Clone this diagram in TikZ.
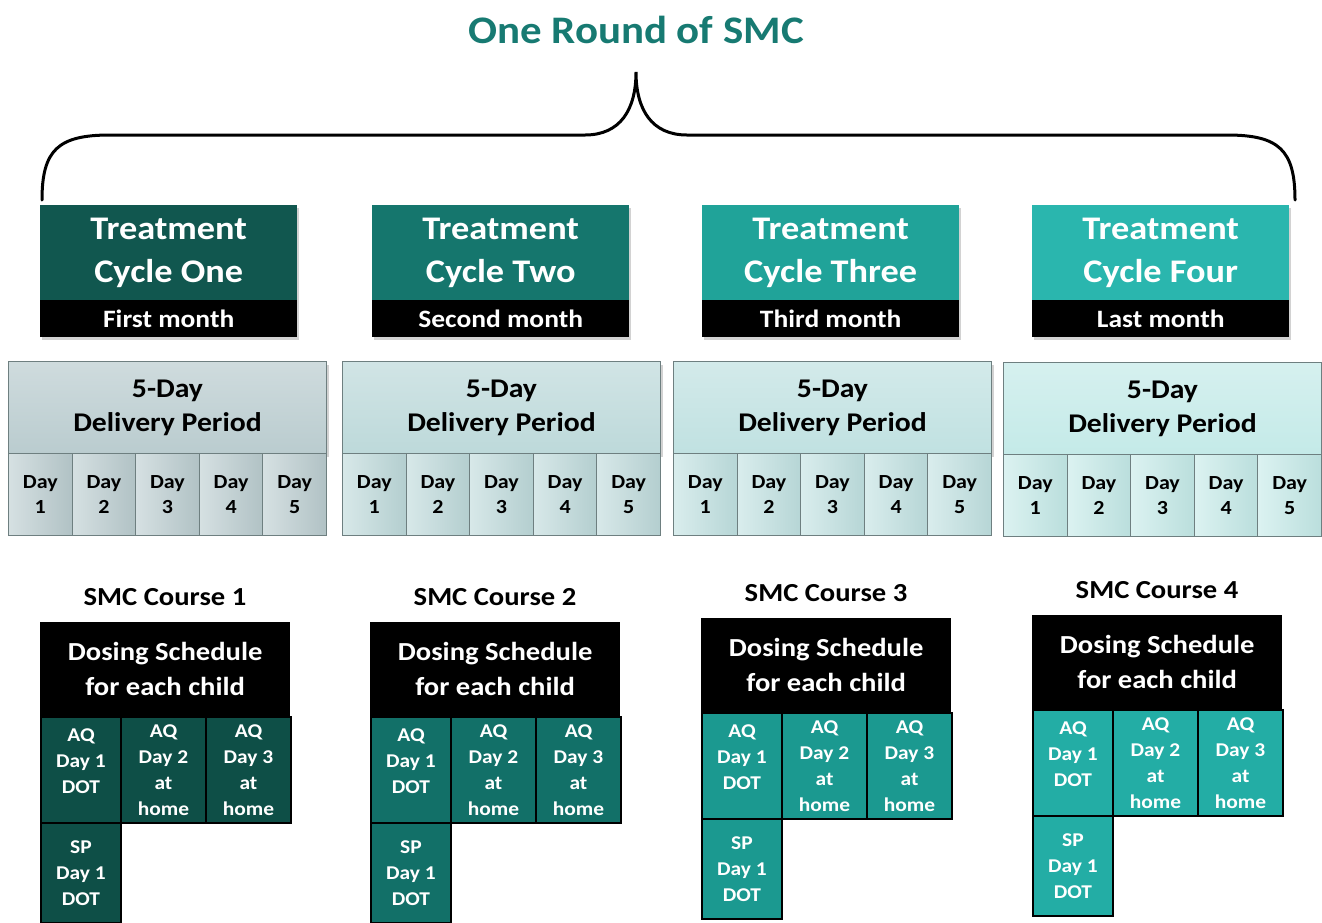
\documentclass[tikz,border=0pt]{standalone}
\usepackage{fontspec}
\setmainfont[FakeStretch=1.1]{Carlito}
\usetikzlibrary{shadows}
\definecolor{titleteal}{HTML}{177A72}
\definecolor{ca}{HTML}{11574F}
\definecolor{cb}{HTML}{15766D}
\definecolor{cc}{HTML}{20A399}
\definecolor{cd}{HTML}{2AB6AE}
\definecolor{sa}{HTML}{0E4F47}
\definecolor{sb}{HTML}{127068}
\definecolor{sc}{HTML}{1B9990}
\definecolor{sd}{HTML}{23ADA5}
\definecolor{da}{HTML}{BACCCF}
\definecolor{db}{HTML}{BDD9DA}
\definecolor{dc}{HTML}{C0E1E1}
\definecolor{dd}{HTML}{C4EAE8}
\definecolor{dborder}{HTML}{6E7F80}
\tikzset{
  box/.style={rectangle, inner sep=0pt, anchor=north west, align=center},
  topbox/.style={box, text=white, font=\fontsize{33}{43}\selectfont\bfseries,
     minimum width=257pt, minimum height=95pt},
  monthbox/.style={box, fill=black, text=white, font=\fontsize{25}{30}\selectfont\bfseries,
     minimum width=257pt, minimum height=37pt},
  delbox/.style={box, draw=dborder, line width=1pt, text=black,
     font=\fontsize{27}{34}\selectfont\bfseries, minimum width=318pt, minimum height=92pt},
  daybox/.style={box, draw=dborder, line width=1pt, text=black,
     font=\fontsize{20}{25}\selectfont\bfseries, minimum width=63.6pt, minimum height=82pt},
  courselabel/.style={text=black, font=\fontsize{26}{30}\selectfont\bfseries},
  doshead/.style={box, fill=black, text=white, font=\fontsize{26}{35}\selectfont\bfseries,
     minimum width=250pt, minimum height=94pt},
  cell/.style={box, draw=black, line width=2pt, text=white,
     font=\fontsize{19.5}{26}\selectfont\bfseries, minimum height=106pt},
  shad/.style={drop shadow={opacity=0.35, shadow xshift=2pt, shadow yshift=-3pt}},
}
\begin{document}
\begin{tikzpicture}[x=1pt,y=-1pt]
\useasboundingbox (0,0) rectangle (1322,922);
\fill[white] (0,0) rectangle (1322,922);

\node[text=titleteal, font=\fontsize{39}{46}\selectfont\bfseries] (title) at (636,30) {One Round of SMC};

\coordinate (bl) at (42,200);
\coordinate (bt) at (636,72);
\coordinate (br) at (1295,200);
\draw[line width=3pt, line cap=round] (bl) .. controls (42,150) and (58,135) .. (110,135) -- (585,135)
  .. controls (620,135) and (636,110) .. (bt)
  .. controls (636,110) and (652,135) .. (687,135) -- (1227,135)
  .. controls (1279,135) and (1295,150) .. (br);

\foreach \i/\nm/\mo/\tc/\sc/\dc/\tx/\dx/\sx/\sy/\dy in {
   1/One/First month/ca/sa/da/40/8/40/622/361,
   2/Two/Second month/cb/sb/db/372/342/370/622/361,
   3/Three/Third month/cc/sc/dc/702/673/701/618/361,
   4/Four/Last month/cd/sd/dd/1032/1003/1032/615/362}{
  % treatment cycle
  \node[topbox, fill=\tc, shad] (tc\i) at (\tx,205) {Treatment\\Cycle \nm};
  \node[monthbox, shad] (tm\i) at (\tx,300) {\mo};
  % delivery period
  \node[delbox, top color=\dc!70!white, bottom color=\dc, shad] (dp\i) at (\dx,\dy) {5-Day\\Delivery Period};
  \foreach \d in {1,...,5}{
    \node[daybox, left color=\dc!60!white, right color=\dc!95!black] (day\i\d) at ({\dx+(\d-1)*63.6},{\dy+92}) {Day\\\d};
  }
  % course
  \node[courselabel] (sl\i) at ({\sx+125},{\sy-25}) {SMC Course \i};
  \node[doshead] (dh\i) at (\sx,\sy) {Dosing Schedule\\for each child};
  \node[cell, fill=\sc, minimum width=80pt] (aqa\i) at (\sx,{\sy+94}) {AQ\\Day 1\\DOT\\[-8pt]};
  \node[cell, fill=\sc, minimum width=85pt] (aqb\i) at ({\sx+80},{\sy+94}) {AQ\\Day 2\\at\\home};
  \node[cell, fill=\sc, minimum width=85pt] (aqc\i) at ({\sx+165},{\sy+94}) {AQ\\Day 3\\at\\home};
  \node[cell, fill=\sc, minimum width=80pt, minimum height=100pt] (sp\i) at (\sx,{\sy+200}) {SP\\Day 1\\DOT};
}
\end{tikzpicture}
\end{document}
